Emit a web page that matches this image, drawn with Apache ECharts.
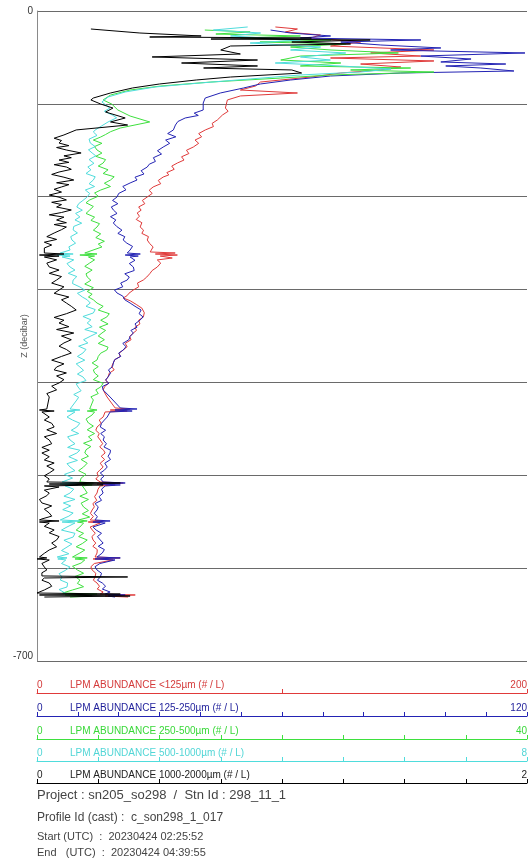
<!DOCTYPE html>
<html><head><meta charset="utf-8">
<script src="https://cdn.jsdelivr.net/npm/echarts@6/dist/echarts.min.js"></script>
<style>html,body{margin:0;padding:0;background:#fff}#c{width:530px;height:862px}</style>
</head><body><div id="c"></div>
<script>
// ---- data (value, depth in decibar as negative Z) ----
const axisTitles = [
  'LPM ABUNDANCE <125µm (# / L)',
  'LPM ABUNDANCE 125-250µm (# / L)',
  'LPM ABUNDANCE 250-500µm (# / L)',
  'LPM ABUNDANCE 500-1000µm (# / L)',
  'LPM ABUNDANCE 1000-2000µm (# / L)'
];
const axisMax = [200, 120, 40, 8, 2];
const axisStep = [100, 10, 5, 1, 0.25];
const depthMin = -700, depthMax = 0, depthStep = 100;
const infoLines = [
  'Project : sn205_so298  /  Stn Id : 298_11_1',
  'Profile Id (cast) :  c_son298_1_017',
  'Start (UTC)  :  20230424 02:25:52',
  'End   (UTC)  :  20230424 04:39:55'
];

const red = [[97.3,-17.2],[106.3,-19.4],[101.4,-22.6],[115.7,-25.8],[111.7,-29.1],[132.1,-33.4],[119.8,-37.7],[162.0,-42.0],[136.2,-45.2],[156.6,-48.5],[119.8,-50.6],[162.0,-53.8],[132.1,-57.1],[148.5,-60.3],[140.3,-63.5],[123.9,-66.8],[111.7,-71.1],[91.2,-76.5],[89.2,-80.8],[83.0,-85.1],[106.3,-88.3],[83.0,-91.5],[77.7,-95.8],[76.9,-104.5],[78.0,-108],[75.7,-112.0],[73.6,-117.4],[71.5,-121],[72.0,-124.5],[68.7,-128.1],[66.0,-132],[67.2,-135.5],[64.5,-139],[66.0,-142.5],[63.8,-146.5],[61.0,-150],[62.0,-153.5],[59.0,-157],[60.0,-160.5],[57.3,-163.7],[55.0,-167],[56.0,-170.5],[53.0,-174],[53.8,-176.5],[51.5,-178.8],[49.5,-182.5],[50.5,-186],[47.4,-189.5],[45.8,-193],[47.0,-196.5],[45.0,-200.3],[43.0,-204],[44.0,-207.5],[41.5,-211],[42.5,-214.5],[40.9,-217.5],[41.8,-221],[40.5,-224.5],[42.8,-228],[42.1,-232.6],[43.5,-236],[42.8,-239.5],[45.5,-243],[45.0,-246.6],[46.0,-250.5],[47.4,-254.1],[46.2,-259.5],[56.4,-260.6],[48.3,-261.7],[57.3,-262.8],[50.3,-263.9],[55.2,-266.0],[49.1,-268.1],[50.5,-271.5],[49.1,-275.7],[47.0,-279.5],[46.0,-283],[44.8,-286.5],[43.4,-289.7],[41.0,-293],[41.5,-297],[39.3,-300.5],[37.5,-304],[36.8,-306.5],[35.2,-309.1],[38.0,-312],[40.5,-316],[42.8,-320],[43.8,-325],[43.4,-329.5],[41.5,-333],[42.0,-337],[40.0,-340.5],[40.6,-344],[39.3,-346.8],[37.8,-350.5],[38.4,-354],[36.0,-358],[36.8,-361.5],[35.2,-365.1],[33.5,-368.5],[34.0,-372],[31.8,-375.5],[31.1,-379.1],[30.5,-383],[31.5,-386.5],[29.5,-390],[29.0,-394.1],[28.0,-397.5],[29.2,-401],[27.6,-404.5],[27.0,-408.1],[28.6,-415.7],[31.9,-427.5],[38.0,-428.6],[29.9,-429.7],[36.8,-430.8],[27.8,-431.8],[27.0,-437.2],[25.4,-440.5],[26.2,-444],[24.5,-448.0],[24.0,-451.5],[25.4,-455],[24.8,-458.5],[25.8,-462.0],[26.8,-466],[25.6,-469.5],[27.2,-473],[27.8,-476.0],[26.2,-479.5],[27.6,-483],[25.8,-487],[27.0,-491.1],[25.6,-494.5],[24.5,-497.5],[25.0,-501],[24.0,-504],[25.8,-507.2],[35.2,-508.3],[24.5,-509.4],[31.9,-510.4],[25.8,-511.5],[24.9,-515],[24.5,-519.1],[23.5,-523],[24.4,-527],[22.8,-530.5],[23.4,-534],[22.5,-537.4],[21.8,-541],[23.0,-544.5],[21.7,-548.1],[27.0,-549.2],[20.9,-550.3],[25.8,-551.4],[21.7,-555.7],[22.6,-559],[23.8,-562.5],[22.4,-566],[22.9,-569.7],[24.0,-573],[22.8,-576.5],[24.6,-580],[24.5,-583.7],[23.7,-588.0],[33.9,-589.0],[22.9,-590.1],[31.1,-591.2],[23.4,-595],[22.0,-598.5],[22.5,-602.0],[24.0,-605.5],[23.7,-609.5],[23.0,-613],[24.5,-616.0],[25.5,-619.5],[24.6,-622.5],[27.0,-625.7],[25.8,-627.9],[40.1,-628.9],[27.8,-630.0],[37.2,-631.1]];

const blue = [[57.2,-20.5],[62.1,-23.7],[71.9,-26.9],[64.5,-29.1],[94.0,-31.2],[74.4,-33.4],[84.2,-36.6],[98.9,-39.8],[86.6,-42.0],[119.5,-45.2],[94.0,-48.5],[106.3,-51.7],[98.9,-54.9],[114.8,-57.1],[100.1,-59.2],[108.7,-61.4],[116.8,-64.6],[89.1,-66.8],[71.9,-70.0],[62.1,-74.3],[54.7,-78.6],[50.6,-82.9],[44.9,-88.3],[41.2,-93.7],[40.7,-99.1],[40.7,-106.6],[38.5,-110],[39.5,-112.5],[36.3,-115.2],[34.5,-119],[33.9,-122.8],[33.4,-128.1],[32.0,-132],[34.0,-135.5],[31.5,-139],[32.5,-142.5],[30.9,-146.5],[29.5,-150.5],[30.5,-154],[28.5,-158],[29.0,-162],[27.5,-165],[27.0,-168.0],[25.5,-172],[26.2,-175.5],[24.0,-179],[24.5,-182],[22.8,-185.2],[21.0,-189],[21.8,-192.5],[20.0,-196.5],[19.6,-200.3],[18.5,-204],[19.8,-207.5],[18.2,-211],[18.7,-214.3],[19.6,-218],[18.0,-221.5],[19.3,-225],[18.7,-228.3],[19.5,-232],[20.8,-236],[19.8,-239.5],[21.5,-243],[21.1,-246.6],[22.0,-250],[23.4,-253.5],[22.8,-257.4],[22.1,-260.6],[25.3,-261.7],[21.6,-262.8],[24.8,-263.9],[22.8,-264.9],[24.0,-268.5],[22.6,-272],[23.6,-275.7],[23.8,-279.5],[21.5,-283],[22.6,-286.5],[22.1,-289.7],[20.5,-293],[21.0,-297],[19.0,-300.5],[19.6,-303.7],[21.0,-307],[21.5,-311],[22.8,-314.5],[24.0,-318],[25.5,-322],[25.0,-326],[26.0,-329.5],[25.2,-333],[24.0,-337],[24.5,-340.5],[23.0,-344],[23.6,-346.8],[22.8,-350.5],[22.5,-354],[21.0,-358],[21.8,-361.5],[21.1,-365.1],[20.0,-368.5],[20.5,-372],[19.0,-375.5],[18.7,-379.1],[18.5,-383],[17.5,-386.5],[18.0,-390],[17.4,-394.1],[16.8,-397.5],[17.6,-401],[16.0,-404.5],[16.2,-408.1],[17.9,-415.7],[20.4,-427.5],[24.5,-428.6],[19.1,-429.7],[23.3,-430.8],[17.9,-431.8],[17.2,-437.2],[16.5,-440.5],[15.8,-444],[15.5,-448.0],[16.8,-451.5],[15.6,-455],[16.5,-458.5],[16.2,-462.0],[17.0,-466],[16.4,-469.5],[18.0,-473],[17.9,-476.0],[17.4,-479.5],[18.0,-483],[16.6,-487],[17.2,-491.1],[16.5,-494.5],[15.5,-497.5],[16.4,-501],[15.6,-504],[16.2,-507.2],[21.6,-508.3],[15.5,-509.4],[20.4,-510.4],[16.7,-511.5],[15.8,-515],[16.2,-519.1],[15.2,-523],[15.8,-527],[14.2,-530.5],[15.0,-534],[14.7,-537.4],[14.0,-541],[14.8,-544.5],[14.2,-548.1],[17.9,-549.2],[13.7,-550.3],[16.7,-551.4],[13.7,-555.7],[14.5,-559],[15.8,-562.5],[14.8,-566],[15.5,-569.7],[16.2,-573],[15.0,-576.5],[16.5,-580],[16.0,-583.7],[14.7,-588.0],[20.4,-589.0],[14.2,-590.1],[19.1,-591.2],[15.4,-595],[14.2,-598.5],[14.7,-602.0],[15.8,-605.5],[15.5,-609.5],[14.8,-613],[16.0,-616.0],[16.8,-619.5],[16.0,-622.5],[17.9,-625.7],[16.7,-627.9],[21.6,-628.9],[17.4,-630.0],[19.1,-631.1]];

const green = [[13.7,-20.5],[17.4,-22.6],[14.6,-24.8],[21.5,-26.9],[16.6,-29.1],[24.0,-31.2],[18.2,-33.4],[25.2,-35.5],[20.7,-38.8],[24.0,-42.0],[29.5,-45.2],[21.5,-48.5],[19.9,-52.8],[24.8,-56.0],[21.5,-59.2],[30.5,-61.4],[25.6,-63.5],[32.4,-65.7],[24.0,-68.9],[19.9,-72.2],[14.2,-76.5],[10.1,-80.8],[7.6,-85.1],[6.0,-90.5],[5.4,-95.8],[6.1,-100.2],[6.6,-106.6],[7.6,-113.1],[9.2,-119.5],[6.8,-126.0],[6.0,-130],[5.6,-133],[5.2,-135.7],[4.6,-139],[5.3,-142.5],[4.7,-146],[4.9,-149.7],[5.3,-153],[4.8,-156.5],[5.6,-160],[5.4,-163.7],[5.0,-167],[5.8,-171],[5.4,-175],[6.3,-178.5],[6.0,-182.0],[5.5,-185.5],[6.0,-189],[5.2,-192.8],[4.7,-196],[5.0,-199.5],[4.3,-203.5],[4.0,-206.5],[4.6,-210.5],[4.3,-214.3],[4.0,-218],[4.7,-222],[4.4,-225.5],[5.1,-229],[4.9,-232.6],[4.6,-236],[5.2,-240],[4.8,-244],[5.5,-248],[5.0,-251],[5.3,-254.1],[3.9,-260.6],[4.9,-261.7],[3.5,-262.8],[4.7,-263.9],[4.2,-264.9],[4.7,-268],[4.3,-271.4],[3.9,-275],[4.5,-279],[4.0,-283],[4.1,-286.5],[4.4,-290],[3.9,-294],[4.6,-298],[4.1,-302],[4.5,-305],[4.2,-308.0],[4.6,-311],[4.9,-314.5],[5.4,-318],[5.0,-322],[5.9,-326],[5.7,-329.5],[5.2,-333],[5.8,-337],[5.1,-340.5],[5.6,-344],[5.3,-346.8],[5.0,-350],[5.5,-354],[5.0,-358],[5.8,-362],[5.7,-365.1],[5.2,-368.5],[5.0,-372],[4.9,-375.8],[4.5,-379],[5.0,-383],[4.6,-386.5],[4.7,-389.8],[5.0,-393],[4.6,-397],[5.4,-401],[5.2,-404.9],[4.8,-408],[5.0,-412],[4.4,-415.5],[4.6,-418.9],[4.3,-428.6],[4.9,-429.7],[4.1,-430.8],[4.7,-431.8],[4.5,-435],[4.0,-439.5],[4.2,-443.7],[4.6,-447],[4.1,-451],[4.7,-455],[4.2,-458.5],[4.5,-462.0],[3.8,-465.5],[4.4,-469],[4.0,-472.5],[3.9,-476.0],[4.2,-479.5],[3.6,-483],[4.1,-487],[3.8,-491.1],[3.4,-495],[4.0,-499],[3.6,-503],[3.5,-507.2],[4.6,-508.3],[3.3,-509.4],[4.5,-510.4],[3.7,-511.5],[3.9,-515],[4.1,-519.1],[3.5,-522.5],[4.2,-526],[3.6,-530],[3.8,-534.1],[4.2,-538],[3.7,-541.5],[4.3,-545],[3.4,-548.1],[4.1,-549.2],[3.3,-550.3],[3.8,-551.4],[3.5,-555.7],[3.2,-559],[3.8,-562.5],[3.4,-566],[4.1,-569.7],[3.7,-573.5],[3.2,-577],[3.9,-580.5],[3.5,-583.7],[2.9,-588.0],[4.1,-589.0],[3.1,-590.1],[3.9,-591.2],[3.6,-594.5],[2.9,-598],[3.3,-602.0],[3.8,-605.5],[3.1,-609],[3.5,-612.8],[3.3,-616.5],[3.8,-620],[2.9,-623.5],[2.1,-626.8],[4.9,-627.9],[2.3,-628.9],[4.5,-630.0],[2.7,-631.1]];

const cyan = [[3.44,-17.2],[2.88,-20.5],[3.65,-23.7],[3.16,-26.9],[4.30,-31.2],[3.48,-34.5],[4.63,-38.8],[4.14,-42.0],[5.04,-45.2],[4.30,-49.5],[4.79,-52.8],[3.89,-56.0],[4.96,-59.2],[5.78,-62.5],[5.28,-65.7],[4.30,-68.9],[3.48,-73.2],[2.67,-77.5],[1.93,-81.8],[1.44,-87.2],[1.16,-92.6],[1.06,-98.0],[1.19,-104.5],[1.10,-108],[1.23,-112.0],[1.30,-115],[1.16,-119.5],[1.05,-124],[0.95,-128.1],[0.92,-130.3],[0.98,-134],[0.85,-138],[0.87,-142.2],[0.95,-146],[0.84,-149.5],[0.90,-152.9],[0.96,-156],[0.85,-160],[0.93,-164],[0.83,-168.0],[0.88,-171],[0.80,-175],[0.95,-178.5],[0.92,-182.0],[0.85,-186],[0.94,-189],[0.79,-192.8],[0.86,-196.5],[0.82,-200.3],[0.75,-204],[0.68,-207.5],[0.65,-211.1],[0.74,-214.5],[0.63,-218],[0.70,-221.8],[0.62,-225],[0.73,-228.5],[0.60,-232],[0.59,-235.8],[0.66,-239],[0.55,-243],[0.57,-246.6],[0.63,-250],[0.52,-254],[0.54,-257.4],[0.38,-260.6],[0.59,-261.7],[0.33,-262.8],[0.54,-263.9],[0.41,-264.9],[0.60,-268],[0.49,-272],[0.54,-275.7],[0.62,-279],[0.51,-282.5],[0.65,-286],[0.59,-289.7],[0.58,-293.5],[0.70,-297.2],[0.78,-300.5],[0.66,-304],[0.74,-308.0],[0.82,-311],[0.87,-314.5],[0.80,-318],[0.95,-321.5],[0.92,-325.2],[0.75,-329],[0.88,-332.5],[0.82,-336.0],[0.90,-340],[0.78,-343],[0.98,-346.8],[0.88,-350],[0.76,-354],[0.83,-357.5],[0.68,-361],[0.80,-364.5],[0.75,-368.3],[0.66,-372],[0.78,-376],[0.64,-380],[0.70,-383.4],[0.76,-387],[0.66,-391],[0.75,-394.1],[0.80,-398],[0.64,-401.5],[0.67,-404.9],[0.72,-409],[0.60,-413],[0.68,-416],[0.65,-418.9],[0.54,-428.6],[0.70,-429.7],[0.49,-430.8],[0.62,-431.8],[0.49,-437.2],[0.58,-440.5],[0.70,-444],[0.65,-448.0],[0.56,-451.5],[0.68,-455],[0.50,-458.5],[0.54,-462.0],[0.62,-466],[0.50,-470],[0.70,-473],[0.65,-476.0],[0.52,-480],[0.66,-484],[0.49,-487.5],[0.54,-491.1],[0.62,-495],[0.45,-499],[0.58,-503],[0.41,-507.2],[0.70,-508.3],[0.38,-509.4],[0.67,-510.4],[0.46,-511.5],[0.60,-515],[0.54,-519.1],[0.44,-522.5],[0.62,-526],[0.43,-529.8],[0.55,-533],[0.42,-537],[0.59,-540.6],[0.52,-544],[0.38,-548.1],[0.70,-549.2],[0.41,-550.3],[0.62,-551.4],[0.49,-555.7],[0.40,-559],[0.62,-562.5],[0.59,-566.5],[0.44,-570],[0.57,-574],[0.49,-577.3],[0.40,-581],[0.52,-584.5],[0.33,-588.0],[0.49,-589.0],[0.34,-590.1],[0.47,-591.2],[0.40,-595],[0.54,-598.8],[0.46,-602.5],[0.36,-606],[0.41,-609.5],[0.38,-612.8],[0.50,-616],[0.49,-620.3],[0.36,-623],[0.43,-625.7],[0.51,-628.9]];

const black = [[0.22,-19.4],[0.42,-23.7],[0.67,-26.9],[0.46,-28.0],[1.12,-29.1],[0.71,-30.2],[1.36,-31.2],[1.04,-33.4],[1.28,-35.5],[0.79,-37.7],[0.75,-42.0],[0.83,-46.3],[0.47,-49.5],[0.90,-52.8],[0.59,-56.0],[0.90,-59.2],[0.68,-61.4],[1.04,-63.5],[1.08,-66.8],[0.79,-71.1],[0.65,-74.3],[0.50,-78.6],[0.39,-82.9],[0.30,-88.3],[0.23,-93.7],[0.22,-95.8],[0.26,-100.2],[0.31,-104.5],[0.28,-108.8],[0.36,-115.2],[0.30,-119.5],[0.37,-122.8],[0.16,-128.1],[0.11,-133.5],[0.07,-137],[0.10,-139.5],[0.09,-142.2],[0.13,-145],[0.08,-147],[0.12,-149.7],[0.18,-152.9],[0.11,-156],[0.14,-158],[0.09,-160.5],[0.13,-163],[0.07,-165.5],[0.12,-168.0],[0.14,-170.5],[0.09,-173.4],[0.06,-176],[0.11,-179],[0.15,-182.0],[0.08,-185],[0.13,-187],[0.10,-189.5],[0.07,-192],[0.10,-195],[0.05,-198.2],[0.09,-200.5],[0.12,-203.5],[0.06,-206],[0.10,-208.5],[0.08,-211.1],[0.14,-214.3],[0.10,-217],[0.05,-219.5],[0.11,-222],[0.08,-225.1],[0.12,-228],[0.07,-230],[0.12,-232.6],[0.10,-235.5],[0.07,-239.1],[0.04,-243],[0.08,-246],[0.03,-249],[0.06,-252],[0.03,-255.2],[0.03,-260.6],[0.11,-261.7],[0.01,-262.8],[0.09,-263.9],[0.03,-264.9],[0.08,-268],[0.04,-271.5],[0.05,-275.7],[0.09,-279],[0.05,-282.5],[0.10,-286],[0.08,-289.7],[0.06,-293],[0.11,-297],[0.09,-300.5],[0.07,-304],[0.13,-308],[0.10,-311],[0.12,-314.5],[0.14,-318],[0.16,-322.0],[0.12,-326],[0.07,-330],[0.11,-333],[0.09,-336.0],[0.13,-340],[0.08,-343],[0.15,-346.8],[0.10,-350],[0.14,-354],[0.11,-357.5],[0.09,-361],[0.12,-364.5],[0.14,-368.3],[0.10,-372],[0.06,-376],[0.11,-380],[0.08,-383.4],[0.07,-386.5],[0.12,-389.8],[0.08,-393],[0.11,-397],[0.09,-400.6],[0.06,-404],[0.08,-408],[0.04,-412],[0.05,-415.7],[0.04,-428.6],[0.01,-429.7],[0.07,-430.8],[0.02,-431.8],[0.05,-437.2],[0.03,-440.5],[0.06,-444],[0.07,-448.0],[0.04,-451],[0.08,-455],[0.03,-458.5],[0.05,-462.0],[0.06,-466],[0.02,-470],[0.05,-473],[0.02,-476.0],[0.05,-480],[0.03,-483.5],[0.07,-486.8],[0.04,-490],[0.07,-494],[0.05,-497.5],[0.03,-500.5],[0.05,-504],[0.04,-507.2],[0.34,-508.3],[0.05,-509.4],[0.27,-510.4],[0.03,-511.5],[0.09,-512.6],[0.03,-516],[0.05,-519.1],[0.04,-522],[0.01,-526],[0.02,-529.8],[0.06,-533],[0.03,-536.5],[0.05,-540.6],[0.06,-544],[0.02,-547.0],[0.01,-548.1],[0.09,-549.2],[0.01,-550.3],[0.05,-551.4],[0.03,-555],[0.07,-558.9],[0.05,-562],[0.09,-566],[0.08,-569.7],[0.06,-573],[0.08,-577],[0.05,-580.4],[0.03,-584],[0.01,-588.0],[0.04,-589.0],[0.00,-590.1],[0.05,-591.2],[0.02,-595],[0.03,-598.8],[0.04,-602],[0.02,-605],[0.02,-608.4],[0.37,-609.5],[0.03,-610.6],[0.02,-613],[0.05,-616.0],[0.06,-619.5],[0.03,-623.5],[0.00,-626.8],[0.34,-627.9],[0.01,-628.9],[0.38,-630.0],[0.03,-631.1]];

// ---- styling / layout ----
const seriesData = [red, blue, green, cyan, black];
const lineColors = ['#e03a3a', '#2323b4', '#3ee03e', '#4fdcdc', '#000000'];
const textColors = ['#d43a3a', '#1e1e9a', '#38d838', '#52d6d6', '#222222'];
const axisOffsets = [32, 55, 78, 100, 122];
const FONT = '"Liberation Sans", Arial, sans-serif';

const chart = echarts.init(document.getElementById('c'), null, {renderer: 'canvas'});

const xAxes = axisMax.map((mx, i) => ({
  type: 'value', gridIndex: 0, position: 'bottom', offset: axisOffsets[i],
  min: 0, max: mx, interval: axisStep[i],
  axisLine: {show: true, onZero: false, lineStyle: {color: lineColors[i], width: 1}},
  axisTick: {show: true, inside: true, length: 4, lineStyle: {color: lineColors[i]}},
  axisLabel: {
    show: true, inside: true, margin: 3, fontSize: 10, fontFamily: FONT, color: textColors[i],
    alignMinLabel: 'left', alignMaxLabel: 'right',
    formatter: v => (v === 0 || v === mx) ? String(v) : ''
  },
  splitLine: {show: false},
  name: axisTitles[i], nameLocation: 'start', nameGap: -33,
  nameTextStyle: {align: 'left', verticalAlign: 'bottom', fontSize: 10, fontFamily: FONT,
    color: textColors[i], padding: [0, 0, 3, 0]}
}));

chart.setOption({
  animation: false,
  backgroundColor: '#fff',
  grid: {left: 37, right: 3, top: 11, bottom: 201, containLabel: false, outerBoundsMode: 'none'},
  xAxis: xAxes,
  yAxis: {
    type: 'value', min: depthMin, max: depthMax, interval: depthStep,
    axisLine: {show: true, lineStyle: {color: '#8a8a8a'}},
    axisTick: {show: false},
    axisLabel: {fontSize: 10, fontFamily: FONT, color: '#333', margin: 4,
      verticalAlignMinLabel: 'bottom',
      formatter: v => (v === depthMin || v === depthMax) ? String(v) : ''},
    splitLine: {show: true, lineStyle: {color: '#6a6a6a', width: 1}},
    name: 'Z (decibar)', nameLocation: 'middle', nameGap: 8, nameRotate: 90,
    nameMoveOverlap: false,
    nameTextStyle: {fontSize: 9, fontFamily: FONT, color: '#555'}
  },
  series: seriesData.map((d, i) => ({
    type: 'line', xAxisIndex: i, yAxisIndex: 0, data: d,
    showSymbol: false, symbol: 'none', smooth: false,
    lineStyle: {color: lineColors[i], width: 1}, z: 2 + i
  })),
  graphic: [
    {type: 'text', left: 37, top: 789, style: {text: infoLines[0], font: '13px ' + FONT, fill: '#444'}},
    {type: 'text', left: 37, top: 812, style: {text: infoLines[1], font: '12px ' + FONT, fill: '#444'}},
    {type: 'text', left: 37, top: 831, style: {text: infoLines[2], font: '11px ' + FONT, fill: '#444'}},
    {type: 'text', left: 37, top: 847, style: {text: infoLines[3], font: '11px ' + FONT, fill: '#444'}}
  ]
});
</script></body></html>
